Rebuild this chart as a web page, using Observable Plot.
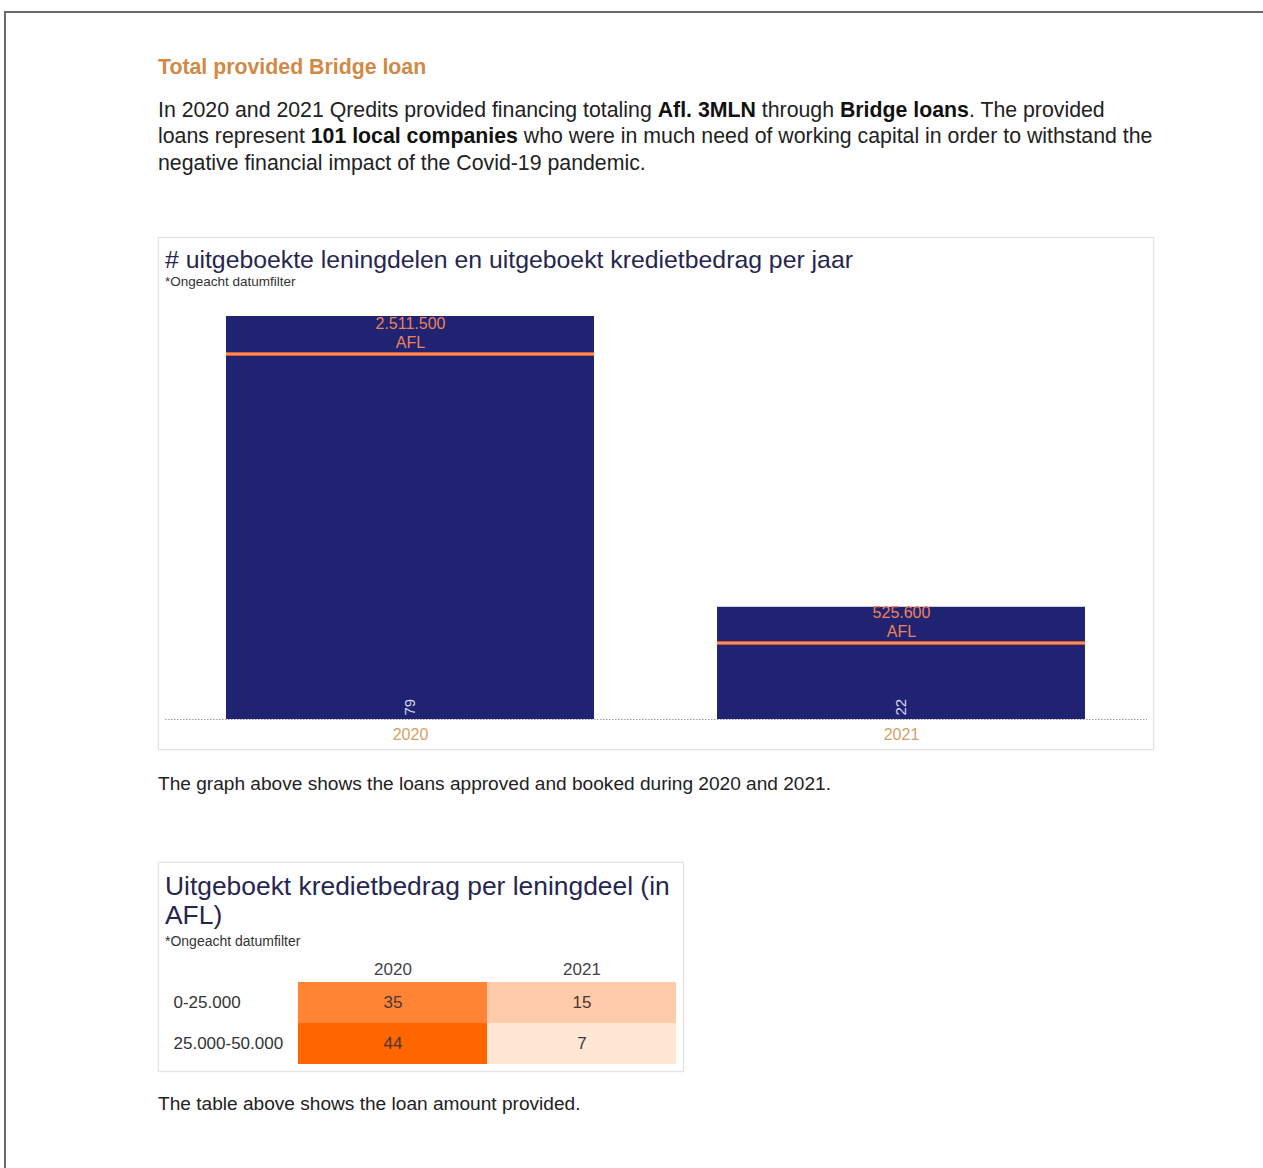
<!DOCTYPE html>
<html>
<head>
<meta charset="utf-8">
<script src="https://cdn.jsdelivr.net/npm/d3@7"></script>
<script src="https://cdn.jsdelivr.net/npm/@observablehq/plot@0.6"></script>
<style>
html, body { margin: 0; padding: 0; background: #fff; }
body { width: 1263px; height: 1168px; position: relative; overflow: hidden; font-family: "Liberation Sans", Arial, sans-serif; }
.abs { position: absolute; white-space: nowrap; }
#page { left: 4px; top: 11px; width: 1259px; height: 1157px; border-top: 2px solid #6b6b6b; border-left: 2px solid #6b6b6b; box-sizing: border-box; }
#heading { left: 158px; top: 55px; font-size: 21.3px; line-height: 24px; font-weight: bold; color: #d08a45; }
#intro { left: 158px; top: 96.5px; font-size: 21.3px; line-height: 26.5px; color: #222; }
#intro b { color: #111; }
.box { border: 1px solid #e2e2e2; box-shadow: 0 0 2px rgba(0,0,0,0.08); background: #fff; box-sizing: border-box; }
#box1 { left: 158px; top: 237px; width: 996px; height: 513px; }
#t1 { left: 165px; top: 245px; font-size: 24.8px; line-height: 30px; color: #262650; }
#s1 { left: 165px; top: 274px; font-size: 13.5px; line-height: 16px; color: #333; }
#chart1, #chart1b { left: 158px; top: 290px; }
#cap1 { left: 158px; top: 773px; font-size: 19.1px; line-height: 22px; color: #222; }
#box2 { left: 158px; top: 862px; width: 526px; height: 210px; }
#t2 { left: 165px; top: 872px; font-size: 26.4px; line-height: 29px; color: #262650; }
#s2 { left: 165px; top: 933px; font-size: 14px; line-height: 16px; color: #333; }
#chart2 { left: 158px; top: 950px; }
#cap2 { left: 158px; top: 1093px; font-size: 19.1px; line-height: 22px; color: #222; }
svg { display: block; }
</style>
</head>
<body>
<div id="page" class="abs"></div>
<div id="heading" class="abs">Total provided Bridge loan</div>
<div id="intro" class="abs">In 2020 and 2021 Qredits provided financing totaling <b>Afl. 3MLN</b> through <b>Bridge loans</b>. The provided<br>loans represent <b>101 local companies</b> who were in much need of working capital in order to withstand the<br>negative financial impact of the Covid-19 pandemic.</div>

<div id="box1" class="abs box"></div>
<div id="t1" class="abs"># uitgeboekte leningdelen en uitgeboekt kredietbedrag per jaar</div>
<div id="s1" class="abs">*Ongeacht datumfilter</div>
<div id="chart1" class="abs"></div>
<div id="chart1b" class="abs"></div>
<div id="cap1" class="abs">The graph above shows the loans approved and booked during 2020 and 2021.</div>

<div id="box2" class="abs box"></div>
<div id="t2" class="abs">Uitgeboekt kredietbedrag per leningdeel (in<br>AFL)</div>
<div id="s2" class="abs">*Ongeacht datumfilter</div>
<div id="chart2" class="abs"></div>
<div id="cap2" class="abs">The table above shows the loan amount provided.</div>

<script>
// ---- Data ----
const years = ["2020", "2021"];
const loanCounts = [79, 22];
const loanAmounts = [2511500, 525600];
const amountUnit = "AFL";
const countAxisMax = 79;
const amountAxisMax = 2770000;

const loanBands = ["0-25.000", "25.000-50.000"];
const heat2020 = [35, 44];
const heat2021 = [15, 7];

// ---- Helpers ----
const nl = d3.formatLocale({decimal: ",", thousands: ".", grouping: [3], currency: ["", ""]});
const fmt = nl.format(",");
const font = "'Liberation Sans', Arial, sans-serif";

const barData = years.map((y, i) => ({year: y, count: loanCounts[i], amount: loanAmounts[i]}));

const common = {
  width: 996, height: 460,
  marginLeft: 7, marginRight: 7, marginTop: 26, marginBottom: 31,
  x: {domain: years, paddingInner: 0.25, paddingOuter: 0.125, axis: null},
  style: {background: "transparent", fontFamily: font, overflow: "visible"}
};

const chart1 = Plot.plot({
  ...common,
  y: {domain: [0, countAxisMax], axis: null},
  marks: [
    Plot.ruleY([0], {stroke: "#9a9a9a", strokeWidth: 1, strokeDasharray: "1.5,1.5"}),
    Plot.barY(barData, {x: "year", y: "count", fill: "#1f2371"}),
    Plot.text(barData, {x: "year", y: 0, text: d => String(d.count), rotate: -90, textAnchor: "start", lineAnchor: "middle", dy: -4, fill: "#d8d8f2", fontSize: 15}),
    Plot.text(years, {x: d => d, frameAnchor: "bottom", lineAnchor: "middle", dy: 15, fill: "#d49f66", fontSize: 16})
  ]
});
document.getElementById("chart1").append(chart1);

const chart1b = Plot.plot({
  ...common,
  y: {domain: [0, amountAxisMax], axis: null},
  marks: [
    Plot.tickY(barData, {x: "year", y: "amount", stroke: "#d9582c", strokeWidth: 4}),
    Plot.tickY(barData, {x: "year", y: "amount", stroke: "#f6a07c", strokeWidth: 1.5}),
    Plot.text(barData, {x: "year", y: "amount", text: d => fmt(d.amount) + "\n" + amountUnit, lineAnchor: "bottom", lineHeight: 1.2, dy: -6, fill: "#f0825a", fontSize: 16})
  ]
});
document.getElementById("chart1b").append(chart1b);

// ---- Heatmap ----
const heatData = loanBands.flatMap((b, i) => [
  {band: b, year: years[0], value: heat2020[i]},
  {band: b, year: years[1], value: heat2021[i]}
]);

const chart2 = Plot.plot({
  width: 526, height: 122,
  marginLeft: 140, marginRight: 8, marginTop: 32, marginBottom: 8,
  x: {domain: years, padding: 0, axis: null},
  y: {domain: loanBands, padding: 0, axis: null},
  color: {type: "linear", domain: [0, d3.max([...heat2020, ...heat2021])], range: ["#ffffff", "#ff6600"]},
  style: {background: "transparent", fontFamily: font, overflow: "visible"},
  marks: [
    Plot.cell(heatData, {x: "year", y: "band", fill: "value"}),
    Plot.text(heatData, {x: "year", y: "band", text: d => String(d.value), fill: "#4a3636", fontSize: 17}),
    Plot.text(years, {x: d => d, frameAnchor: "top", lineAnchor: "middle", dy: -13, fill: "#444", fontSize: 17}),
    Plot.text(loanBands, {y: d => d, frameAnchor: "left", textAnchor: "start", lineAnchor: "middle", dx: -125, fill: "#333", fontSize: 17})
  ]
});
document.getElementById("chart2").append(chart2);
</script>
</body>
</html>
